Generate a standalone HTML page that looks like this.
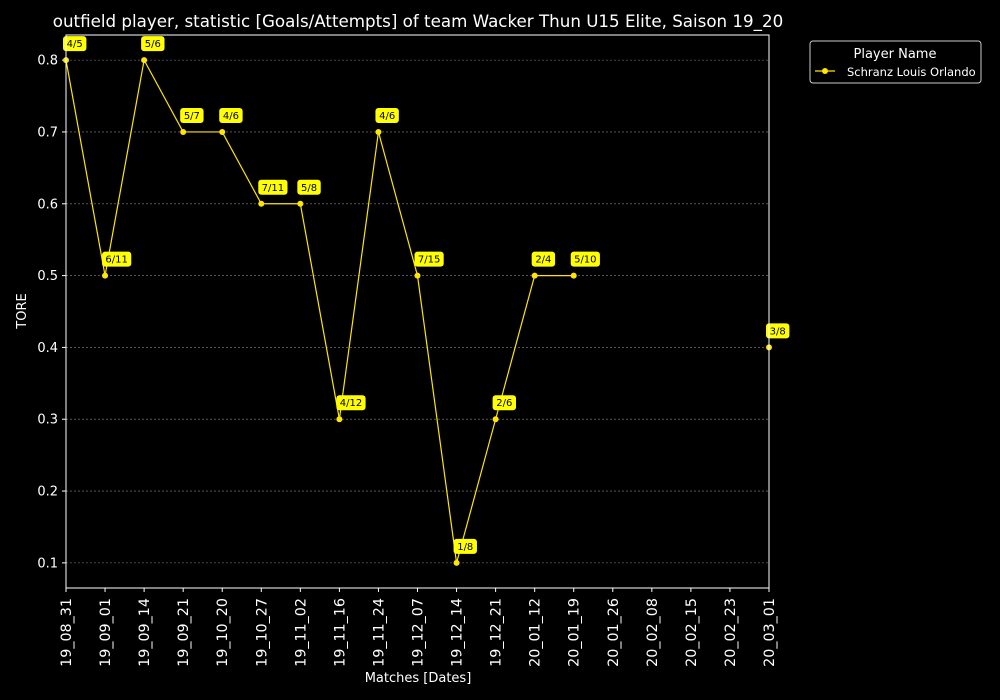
<!DOCTYPE html>
<html><head><meta charset="utf-8"><style>
body{margin:0;background:#000;}
svg{display:block;font-family:"DejaVu Sans","Liberation Sans",sans-serif;}
</style></head><body>
<svg id="chart" width="1000" height="700">
<rect width="1000" height="700" fill="#000"/>
<text x="418" y="27" fill="#fff" font-size="16.7" text-anchor="middle">outfield player, statistic [Goals/Attempts] of team Wacker Thun U15 Elite, Saison 19_20</text>
<g id="grid"></g><g id="axes"></g><g id="series"></g><g id="labels"></g>
<rect x="66" y="35" width="703" height="553" fill="none" stroke="#fff" stroke-width="1"/>
<text x="418" y="682" fill="#fff" font-size="13" text-anchor="middle">Matches [Dates]</text>
<text transform="translate(26,311) rotate(-90)" fill="#fff" font-size="13" text-anchor="middle">TORE</text>
<g>
<rect x="810" y="41" width="171" height="42" rx="3" fill="#000" stroke="#ccc" stroke-width="1"/>
<text x="895" y="58" fill="#fff" font-size="13" text-anchor="middle">Player Name</text>
<line x1="815" y1="71" x2="835" y2="71" stroke="#ffe600" stroke-width="1.3"/>
<circle cx="825" cy="71" r="3" fill="#ffe600"/>
<text x="847" y="76" fill="#fff" font-size="11.5">Schranz Louis Orlando</text>
</g>
</svg>
<script>
const categories=["19_08_31","19_09_01","19_09_14","19_09_21","19_10_20","19_10_27","19_11_02","19_11_16","19_11_24","19_12_07","19_12_14","19_12_21","20_01_12","20_01_19","20_01_26","20_02_08","20_02_15","20_02_23","20_03_01"];
const values=[0.8,0.5,0.8,0.7,0.7,0.6,0.6,0.3,0.7,0.5,0.1,0.3,0.5,0.5,null,null,null,null,0.4];
const pointLabels=["4/5","6/11","5/6","5/7","4/6","7/11","5/8","4/12","4/6","7/15","1/8","2/6","2/4","5/10","","","","","3/8"];
const yTicks=[0.1,0.2,0.3,0.4,0.5,0.6,0.7,0.8];
const NS="http://www.w3.org/2000/svg";
const x0=66,x1=769,yTop=35,yBot=588,yMin=0.065,yMax=0.835;
const xs=i=>x0+i*(x1-x0)/(categories.length-1);
const ys=v=>yBot-(v-yMin)/(yMax-yMin)*(yBot-yTop);
function mk(tag,attrs,parent){const e=document.createElementNS(NS,tag);for(const k in attrs)e.setAttribute(k,attrs[k]);document.getElementById(parent).appendChild(e);return e;}
yTicks.forEach(t=>{
  const y=ys(t);
  const g=mk("line",{x1:x0,x2:x1,y1:y,y2:y,stroke:"#888","stroke-width":0.6,"stroke-dasharray":"2,2"},"grid");
  
  
  mk("line",{x1:x0-4,x2:x0,y1:y,y2:y,stroke:"#fff"},"axes");
  const tx=mk("text",{x:x0-8,y:y+4.5,fill:"#fff","font-size":13,"text-anchor":"end"},"axes");
  tx.textContent=t.toFixed(1);
  
  
});
categories.forEach((c,i)=>{
  const x=xs(i);
  mk("line",{x1:x,x2:x,y1:yBot,y2:yBot+4,stroke:"#fff"},"axes");
  const tx=mk("text",{transform:`translate(${x+5},${yBot+10}) rotate(-90)`,fill:"#fff","font-size":14.3,"text-anchor":"end"},"axes");
  tx.textContent=c;
  
  
});
let seg=[];const segs=[];
values.forEach((v,i)=>{if(v==null){if(seg.length)segs.push(seg);seg=[];}else seg.push(i);});
if(seg.length)segs.push(seg);
segs.forEach(s=>{
  const p=mk("polyline",{points:s.map(i=>xs(i)+","+ys(values[i])).join(" "),fill:"none",stroke:"#ffe600","stroke-width":1.2},"series");
  
  
});
values.forEach((v,i)=>{
  if(v==null)return;
  const x=xs(i),y=ys(v);
  const c=mk("circle",{cx:x,cy:y,r:3,fill:"#ffe600"},"series");
  
  
  const lbl=pointLabels[i];
  const w=lbl.length*5.8+6;
  const r=mk("rect",{x:x-3,y:y-24,width:w,height:15,rx:3,fill:"#ffff00"},"labels");
  
  
  const t=mk("text",{x:x-3+w/2,y:y-13,fill:"#000","font-size":10,"text-anchor":"middle"},"labels");
  t.textContent=lbl;
  
  
});
</script>
</body></html>
